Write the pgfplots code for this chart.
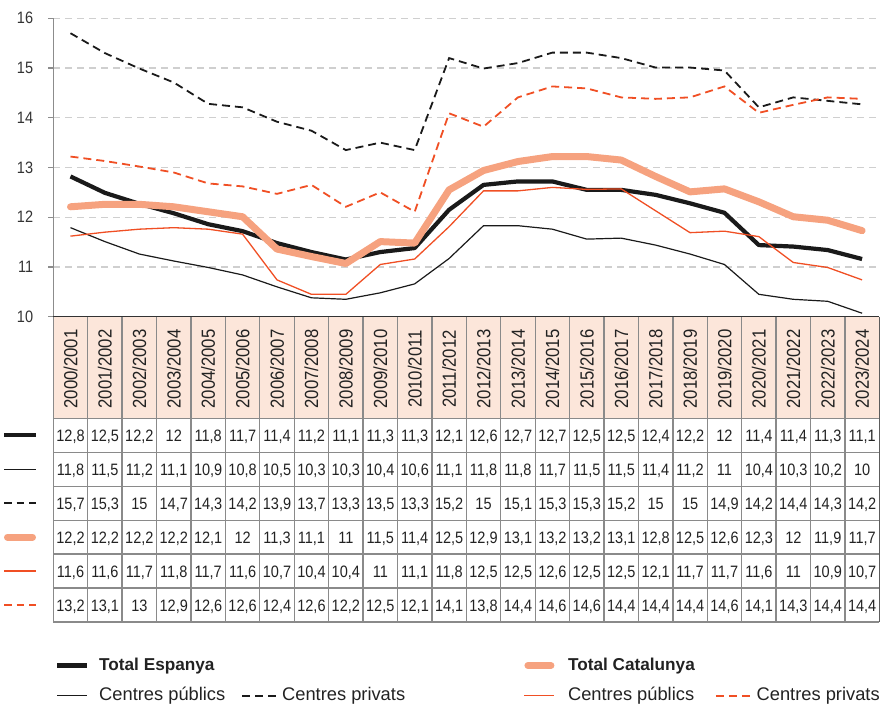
\documentclass[border=0pt]{standalone}
\usepackage{fontspec}
\setmainfont{Liberation Sans}
\newfontfamily\condf[FakeStretch=0.88]{Liberation Sans}
\usepackage{pgfplots}
\pgfplotsset{compat=1.18}
\definecolor{txt}{HTML}{222222}
\definecolor{blk}{HTML}{1A1A1A}
\definecolor{salmon}{HTML}{F6A27F}
\definecolor{redl}{HTML}{F04F24}
\definecolor{hdr}{HTML}{FCE6DA}
\definecolor{gridc}{HTML}{CFCFCF}
\definecolor{axc}{HTML}{8C8C8C}
\definecolor{cellc}{HTML}{8A8A8A}
\definecolor{tickt}{HTML}{333333}

\pgfplotstableread{
i te ep epr tc cp cpr
0 12.82 11.79 15.70 12.21 11.62 13.22
1 12.49 11.51 15.30 12.26 11.70 13.13
2 12.27 11.26 14.99 12.26 11.76 13.02
3 12.08 11.12 14.71 12.21 11.79 12.90
4 11.86 10.99 14.28 12.11 11.76 12.68
5 11.72 10.84 14.21 12.01 11.66 12.62
6 11.48 10.60 13.92 11.36 10.74 12.47
7 11.30 10.38 13.74 11.21 10.45 12.65
8 11.15 10.35 13.35 11.07 10.45 12.21
9 11.30 10.48 13.50 11.51 11.05 12.50
10 11.38 10.66 13.35 11.48 11.16 12.11
11 12.15 11.17 15.20 12.55 11.81 14.09
12 12.65 11.83 14.99 12.94 12.53 13.82
13 12.72 11.83 15.10 13.12 12.53 14.41
14 12.72 11.76 15.31 13.22 12.60 14.63
15 12.55 11.56 15.31 13.22 12.56 14.59
16 12.55 11.58 15.20 13.15 12.57 14.41
17 12.45 11.44 15.01 12.82 12.13 14.38
18 12.28 11.26 15.01 12.51 11.69 14.41
19 12.09 11.05 14.95 12.57 11.72 14.63
20 11.44 10.45 14.21 12.31 11.61 14.10
21 11.41 10.35 14.41 12.01 11.09 14.26
22 11.34 10.31 14.34 11.94 10.99 14.41
23 11.16 10.07 14.27 11.73 10.74 14.38
}\data

\tikzset{
  teS/.style={blk, line width=4.2pt, line join=round},
  epS/.style={blk, line width=1.2pt, line join=round},
  eprS/.style={blk, line width=1.8pt, dash pattern=on 8pt off 5pt},
  tcS/.style={salmon, line width=7pt, line join=round, line cap=round},
  cpS/.style={redl, line width=1.3pt, line join=round},
  cprS/.style={redl, line width=1.8pt, dash pattern=on 8pt off 5pt},
}
\pgfplotsset{
  longleg/.style={legend image code/.code={\draw[##1] (0pt,0pt) -- (34pt,0pt);}},
  tcleg/.style={legend image code/.code={\draw[##1] (3.5pt,0pt) -- (26.5pt,0pt);}},
}

\begin{document}
\begin{tikzpicture}
\path[use as bounding box] (0pt,0pt) rectangle (891pt,705pt);
\begin{axis}[
  at={(53.3pt,388.3pt)}, anchor=south west,
  scale only axis, width=826pt, height=298.4pt,
  xmin=-0.5, xmax=23.5, ymin=10, ymax=16,
  axis x line=none, axis y line*=left,
  axis line style={axc, line width=1.5pt, -},
  ytick={10,11,12,13,14,15,16},
  tick align=outside, major tick length=5pt,
  tick style={axc, line width=1.2pt},
  ymajorgrids,
  grid style={gridc, line width=1.2pt, dash pattern=on 7pt off 5pt},
  /pgf/number format/assume math mode=true,
  yticklabel style={font=\condf\fontsize{16.5}{18}\selectfont, text=tickt, inner sep=0pt, xshift=-15pt},
  legend image code/.code={\draw[#1] (0pt,0pt) -- (30pt,0pt);},
  legend columns=4,
  legend cell align=left,
  legend style={at={(0.00206,-1.1404)}, anchor=north west, draw=none, fill=none,
    inner sep=0pt, outer sep=0pt, row sep=13.3pt,
    font=\fontsize{18.3}{20}\selectfont, text=txt,
    nodes={inner sep=0pt, text height=13pt, text depth=4pt},
    /tikz/column 1/.style={column sep=10pt},
    /tikz/column 2/.style={column sep=16pt},
    /tikz/column 3/.style={column sep=5pt},
    /tikz/column 4/.style={column sep=118.6pt},
    /tikz/column 5/.style={column sep=13pt},
    /tikz/column 6/.style={column sep=20pt},
    /tikz/column 7/.style={column sep=6pt}},
]
\addplot[teS, forget plot] table[x=i, y=te]{\data};
\addplot[epS, forget plot] table[x=i, y=ep]{\data};
\addplot[eprS, forget plot] table[x=i, y=epr]{\data};
\addplot[tcS, forget plot] table[x=i, y=tc]{\data};
\addplot[cpS, forget plot] table[x=i, y=cp]{\data};
\addplot[cprS, forget plot] table[x=i, y=cpr]{\data};

\addlegendimage{teS}
\addlegendentry{\fontsize{17.2}{20}\selectfont\bfseries Total Espanya}
\addlegendimage{empty legend}
\addlegendentry{}
\addlegendimage{tcS, tcleg}
\addlegendentry{\fontsize{17.2}{20}\selectfont\bfseries Total Catalunya}
\addlegendimage{empty legend}
\addlegendentry{}
\addlegendimage{epS}
\addlegendentry{Centres públics}
\addlegendimage{eprS, longleg}
\addlegendentry{Centres privats}
\addlegendimage{cpS}
\addlegendentry{Centres públics}
\addlegendimage{cprS, longleg}
\addlegendentry{Centres privats}
\end{axis}

% table
\fill[hdr] (53.3pt,286.7pt) rectangle (879.3pt,388.3pt);
\foreach \lab [count=\i from 0] in {2000/2001,2001/2002,2002/2003,2003/2004,2004/2005,2005/2006,2006/2007,2007/2008,2008/2009,2009/2010,2010/2011,2011/2012,2012/2013,2013/2014,2014/2015,2015/2016,2016/2017,2017/2018,2018/2019,2019/2020,2020/2021,2021/2022,2022/2023,2023/2024}
  \node[rotate=90, inner sep=0pt, text=txt, font=\condf\fontsize{19}{20}\selectfont] at ({53.3pt+34.42pt*(\i+0.5)}, 336pt) {\lab};

\foreach \rowvals [count=\r from 0] in {
 {{12,8},{12,5},{12,2},{12},{11,8},{11,7},{11,4},{11,2},{11,1},{11,3},{11,3},{12,1},{12,6},{12,7},{12,7},{12,5},{12,5},{12,4},{12,2},{12},{11,4},{11,4},{11,3},{11,1}},
 {{11,8},{11,5},{11,2},{11,1},{10,9},{10,8},{10,5},{10,3},{10,3},{10,4},{10,6},{11,1},{11,8},{11,8},{11,7},{11,5},{11,5},{11,4},{11,2},{11},{10,4},{10,3},{10,2},{10}},
 {{15,7},{15,3},{15},{14,7},{14,3},{14,2},{13,9},{13,7},{13,3},{13,5},{13,3},{15,2},{15},{15,1},{15,3},{15,3},{15,2},{15},{15},{14,9},{14,2},{14,4},{14,3},{14,2}},
 {{12,2},{12,2},{12,2},{12,2},{12,1},{12},{11,3},{11,1},{11},{11,5},{11,4},{12,5},{12,9},{13,1},{13,2},{13,2},{13,1},{12,8},{12,5},{12,6},{12,3},{12},{11,9},{11,7}},
 {{11,6},{11,6},{11,7},{11,8},{11,7},{11,6},{10,7},{10,4},{10,4},{11},{11,1},{11,8},{12,5},{12,5},{12,6},{12,5},{12,5},{12,1},{11,7},{11,7},{11,6},{11},{10,9},{10,7}},
 {{13,2},{13,1},{13},{12,9},{12,6},{12,6},{12,4},{12,6},{12,2},{12,5},{12,1},{14,1},{13,8},{14,4},{14,6},{14,6},{14,4},{14,4},{14,4},{14,6},{14,1},{14,3},{14,4},{14,4}}}
{
  \foreach \v [count=\c from 0] in \rowvals
    \node[anchor=base, inner sep=0pt, text=txt, font=\condf\fontsize{16.5}{18}\selectfont]
      at ({53.3pt+34.42pt*(\c+0.5)}, {286.7pt-33.95pt*(\r+0.5)-6pt}) {\v};
}

% grid of table
\foreach \j in {0,...,24}
  \draw[cellc, line width=1.3pt] ({53.3pt+34.42pt*\j},83pt) -- ({53.3pt+34.42pt*\j},388.3pt);
\foreach \k in {0,...,6}
  \draw[cellc, line width=1.3pt] (53.3pt,{286.7pt-33.95pt*\k}) -- (879.3pt,{286.7pt-33.95pt*\k});
\draw[tickt, line width=1.5pt] (53.3pt,388.3pt) -- (879.3pt,388.3pt);
\draw[tickt!80, line width=1.3pt] (879.3pt,83pt) -- (879.3pt,388.3pt);

% row symbols
\draw[teS] (4pt,{286.7pt-33.95pt*0.5}) -- (36pt,{286.7pt-33.95pt*0.5});
\draw[epS] (4pt,{286.7pt-33.95pt*1.5}) -- (36pt,{286.7pt-33.95pt*1.5});
\draw[eprS, dash pattern=on 7.5pt off 5pt] (4pt,{286.7pt-33.95pt*2.5}) -- (36pt,{286.7pt-33.95pt*2.5});
\draw[tcS] (7.5pt,{286.7pt-33.95pt*3.5}) -- (32.5pt,{286.7pt-33.95pt*3.5});
\draw[cpS] (4pt,{286.7pt-33.95pt*4.5}) -- (36pt,{286.7pt-33.95pt*4.5});
\draw[cprS, dash pattern=on 7.5pt off 5pt] (4pt,{286.7pt-33.95pt*5.5}) -- (36pt,{286.7pt-33.95pt*5.5});
\end{tikzpicture}
\end{document}
